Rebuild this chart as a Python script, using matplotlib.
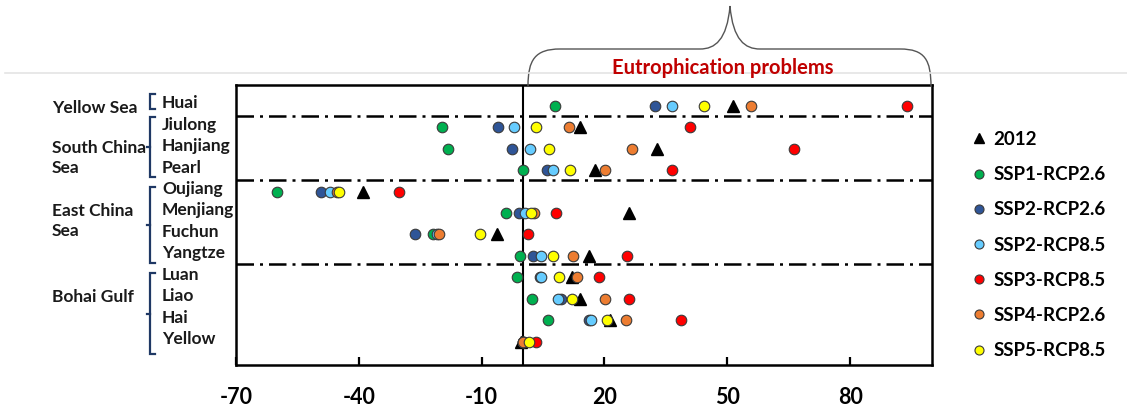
import numpy as np
import matplotlib.pyplot as plt
import matplotlib.transforms as mtransforms
from matplotlib.lines import Line2D
from matplotlib.path import Path
from matplotlib.patches import PathPatch

plt.rcParams['font.family'] = ['Lato', 'DejaVu Sans']
plt.rcParams['font.weight'] = 'bold'

rivers = ['Huai', 'Jiulong', 'Hanjiang', 'Pearl', 'Oujiang', 'Menjiang',
          'Fuchun', 'Yangtze', 'Luan', 'Liao', 'Hai', 'Yellow']

# change (%) per river, top to bottom
y2012 = [51.3, 14.0, 32.9, 17.7, -38.9, 26.1, -6.3, 16.2, 12.0, 14.0, 21.4, -0.3]
ssp1_26 = [7.9, -19.7, -18.1, 0.05, -60.1, -4.1, -21.8, -0.6, -1.3, 2.4, 6.2, 0.0]
ssp2_26 = [32.4, -5.9, -2.5, 5.9, -49.2, -0.8, -26.3, 2.6, 4.2, 9.4, 16.1, 0.0]
ssp2_85 = [36.6, -2.0, 1.8, 7.5, -47.0, 0.6, -21.0, 4.4, 4.4, 8.6, 16.7, 0.4]
ssp3_85 = [93.9, 40.9, 66.2, 36.5, -30.2, 8.2, 1.3, 25.5, 18.6, 26.1, 38.7, 3.3]
ssp4_26 = [55.8, 11.4, 26.7, 20.2, -45.3, 2.7, -20.4, 12.4, 13.2, 20.2, 25.3, 0.2]
ssp5_85 = [44.4, 3.2, 6.5, 11.6, -44.8, 2.1, -10.4, 7.5, 8.9, 12.0, 20.6, 1.6]

scenarios = ['SSP1-RCP2.6', 'SSP2-RCP2.6', 'SSP2-RCP8.5', 'SSP3-RCP8.5',
             'SSP4-RCP2.6', 'SSP5-RCP8.5']
colors = ['#00B050', '#2F5597', '#66CCFF', '#FF0000', '#ED7D31', '#FFFF00']
series = [ssp1_26, ssp2_26, ssp2_85, ssp3_85, ssp4_26, ssp5_85]

xticks = [-70, -40, -10, 20, 50, 80]

seas = [('Yellow Sea', 10.9), ('South China\nSea', 8.57),
        ('East China\nSea', 5.64), ('Bohai Gulf', 2.06)]
# bracket extents (top, bottom, notch)
brackets = [(11.55, 10.85, None), (10.47, 7.68, 9.08),
            (7.22, 3.68, 5.45), (3.21, -0.6, 1.3)]
dividers = [10.52, 7.56, 3.6]

W, H = 1127, 407
fig = plt.figure(figsize=(W / 100, H / 100), dpi=100)
ax = fig.add_axes([236 / W, 1 - 365 / H, (932 - 236) / W, (365 - 85) / H])

ypos = np.arange(len(rivers))[::-1]

ax.plot(y2012, ypos, linestyle='none', marker='^', markersize=8.5,
        color='black', zorder=3, label='2012')
for i, (vals, col, lab) in enumerate(zip(series, colors, scenarios)):
    ax.plot(vals, ypos, linestyle='none', marker='o', markersize=7.6,
            markerfacecolor=col, markeredgecolor='#3a3a3a',
            markeredgewidth=0.8, zorder=4 + i, label=lab)

ax.axvline(0, color='black', lw=1.5, zorder=2)
for d in dividers:
    ax.axhline(d, color='black', lw=1.8, linestyle=(0, (7, 2.4, 1.2, 2.4)),
               zorder=2)

ax.set_xlim(-70, 100)
ax.set_ylim(-1.09, 11.97)
ax.set_yticks([])
ax.set_xticks(xticks)
ax.set_xticklabels([str(t) for t in xticks], fontsize=15.5, fontweight='bold')
ax.tick_params(axis='x', direction='in', length=6, width=1.6, pad=16)
for s in ax.spines.values():
    s.set_linewidth(1.8)

# river and sea labels
trans = mtransforms.blended_transform_factory(fig.transFigure, ax.transData)
for r, y in zip(rivers, ypos):
    ax.text(162 / W, y + 0.12, r, transform=trans, fontsize=12.5,
            fontweight='bold', ha='left', va='center', color='#1a1a1a')
for name, y in seas:
    ax.text(52 / W, y, name, transform=trans, fontsize=12.5, fontweight='bold',
            ha='left', va='center', linespacing=1.3, color='#1a1a1a')

navy = '#1F3864'
bx0, bx1 = 149.5 / W, 155 / W
for top, bot, notch in brackets:
    ax.plot([bx1, bx0, bx0, bx1], [top, top, bot, bot], transform=trans,
            color=navy, lw=1.6, clip_on=False, solid_joinstyle='miter')
    if notch is not None:
        ax.plot([bx0, bx0 - 3 / W], [notch, notch], transform=trans,
                color=navy, lw=1.6, clip_on=False)

# thin grey rule and brace above the plot
fig.add_artist(Line2D([5 / W, 1], [1 - 73 / H, 1 - 73 / H],
                      transform=fig.transFigure, color='#e4e4e4', lw=1.2))


def fp(x, y):
    return (x / W, 1 - y / H)


verts = [fp(528, 86), fp(528, 60), fp(535, 49), fp(560, 49),
         fp(700, 49),
         fp(715, 49), fp(727, 40), fp(730, 6),
         fp(733, 40), fp(745, 49), fp(760, 49),
         fp(900, 49),
         fp(925, 49), fp(931, 60), fp(931, 87)]
codes = [Path.MOVETO, Path.CURVE4, Path.CURVE4, Path.CURVE4,
         Path.LINETO,
         Path.CURVE4, Path.CURVE4, Path.CURVE4,
         Path.CURVE4, Path.CURVE4, Path.CURVE4,
         Path.LINETO,
         Path.CURVE4, Path.CURVE4, Path.CURVE4]
fig.add_artist(PathPatch(Path(verts, codes), transform=fig.transFigure,
                         facecolor='none', edgecolor='#555555', lw=1.0))
fig.text(723 / W, 1 - 68 / H, 'Eutrophication problems', color='#C00000',
         fontsize=14.5, fontweight='bold', ha='center', va='center')

handles, labels = ax.get_legend_handles_labels()
leg = fig.legend(handles, labels, loc='upper left',
                 bbox_to_anchor=(972 / W, 1 - 131 / H), frameon=False,
                 fontsize=13.5, handlelength=0.7, handletextpad=0.45,
                 labelspacing=0.97, borderaxespad=0, borderpad=0)
for h in leg.legend_handles:
    h.set_markersize(6.5)

fig.savefig('out.png', dpi=100)
